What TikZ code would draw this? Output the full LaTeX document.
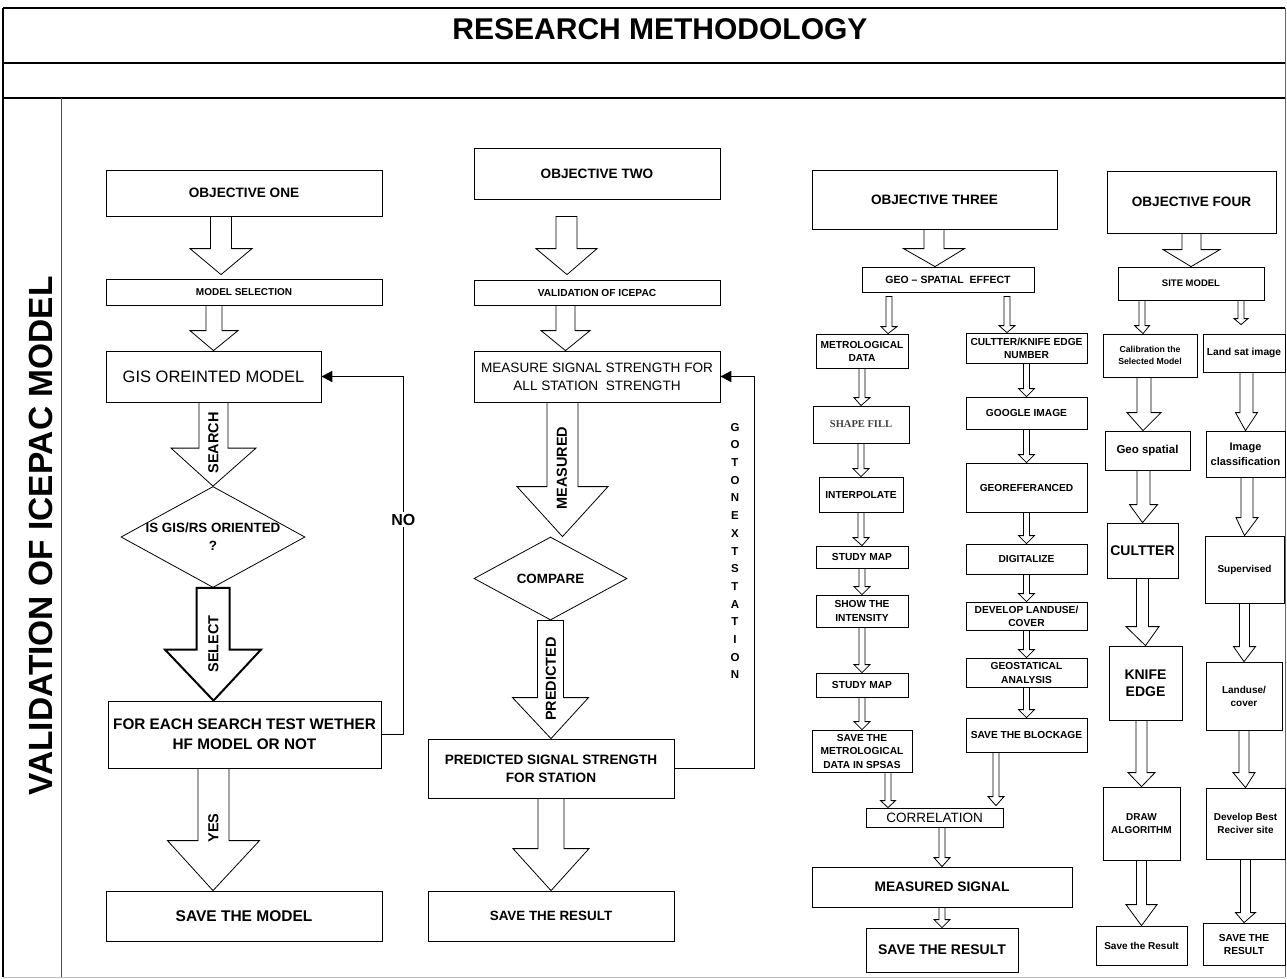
\documentclass[tikz,border=0pt]{standalone}
\usepackage{fontspec}
\setmainfont{Liberation Sans}
\newfontfamily\serifface{Liberation Serif}
\usepackage{tikz}
\usetikzlibrary{arrows.meta,calc,shapes.geometric}

\newcommand{\fsz}[2]{\fontsize{#1}{#2}\selectfont}
% hollow block arrow: start, tip, half shaft, half head, head length
\newcommand{\fatarrow}[6][]{%
  \draw[fat,#1] let \p1=#2, \p2=#3 in
    (\x1-#4,\y1) -- (\x1-#4,\y2+#6) -- (\x1-#5,\y2+#6) -- (\x2,\y2)
    -- (\x1+#5,\y2+#6) -- (\x1+#4,\y2+#6) -- (\x1+#4,\y1) -- cycle;}

\begin{document}
\begin{tikzpicture}[
x=1pt,y=-1pt,
box/.style={draw,line width=0.8pt,inner sep=1pt,align=center},
sz/.style 2 args={minimum width=#1,minimum height=#2},
dia/.style={draw,diamond,line width=0.8pt,inner sep=0pt,align=center},
small/.style={box,font=\fsz{10.2}{13}\bfseries},
fat/.style={draw,fill=white,line width=0.8pt},
arrlbl/.style={rotate=90,inner sep=0pt,font=\fsz{14.5}{16}\bfseries},
loopline/.style={line width=1.8pt,-{Triangle[length=11pt,width=11pt]}},
]
\useasboundingbox (0,0) rectangle (1287,978);

% frame
\draw[line width=2pt] (3,8) -- (1285,8);
\draw[line width=2pt] (3,8) -- (3,977);
\draw[line width=0.8pt,black!60] (1285,8) -- (1285,977);
\draw[line width=1pt,black!25] (3,977) -- (1285,977);
\draw[line width=2pt] (3,63) -- (1285,63);
\draw[line width=2pt] (3,98) -- (1285,98);
\draw[line width=0.8pt,black!70] (61,98) -- (61,977);
\node[font=\fsz{30}{36}\bfseries] (title) at (660,29) {RESEARCH METHODOLOGY};
\node[rotate=90,font=\fsz{33.5}{38}\bfseries] (side) at (41,536) {VALIDATION OF ICEPAC MODEL};

% objective one
\node[box,sz={276}{46},font=\fsz{13.6}{16}\bfseries] (obj1) at (244,193) {OBJECTIVE ONE};
\node[box,sz={276}{26},font=\fsz{10}{12}\bfseries] (msel) at (244,292) {MODEL SELECTION};
\node[box,sz={215}{51},font=\fsz{16.5}{20}] (gis) at (213.5,376.5) {GIS OREINTED MODEL};
\node[dia,sz={184}{101}] (isgis) at (213,537) {};
\node[align=center,font=\fsz{13.4}{18}\bfseries] (isgistxt) at (213,537) {IS GIS/RS ORIENTED\\?};
\node[box,sz={273}{67},font=\fsz{15.3}{20}\bfseries] (each) at (244.5,734.5) {FOR EACH SEARCH TEST WETHER\\HF MODEL OR NOT};
\node[box,sz={276}{50},font=\fsz{15.5}{18}\bfseries] (save1) at (244,916) {SAVE THE MODEL};

% objective two
\node[box,sz={246}{51},font=\fsz{13.6}{16}\bfseries] (obj2) at (597,173.5) {OBJECTIVE TWO};
\node[box,sz={246}{25},font=\fsz{10.2}{12}\bfseries] (val) at (597,292.5) {VALIDATION OF ICEPAC};
\node[box,sz={246}{51},font=\fsz{13.6}{18}] (meas) at (597,376.5) {MEASURE SIGNAL STRENGTH FOR\\ALL STATION\ \ STRENGTH};
\node[dia,sz={153}{83},font=\fsz{13.4}{16}\bfseries] (cmp) at (550.5,578.5) {COMPARE};
\node[box,sz={246}{59},font=\fsz{13.6}{18}\bfseries] (pred) at (551,768.5) {PREDICTED SIGNAL STRENGTH\\FOR STATION};
\node[box,sz={246}{50},font=\fsz{13.4}{16}\bfseries] (save2) at (551,916) {SAVE THE RESULT};
\node[align=center,font=\fsz{11.5}{17.7}\bfseries] (gonext) at (735,551) {G\\O\\T\\O\\N\\E\\X\\T\\S\\T\\A\\T\\I\\O\\N};

% objective three
\node[box,sz={245}{59},font=\fsz{13.6}{16}\bfseries] (obj3) at (934.5,199.5) {OBJECTIVE THREE};
\node[box,sz={172}{25},font=\fsz{10.5}{12}\bfseries] (geo) at (948,279.5) {GEO – SPATIAL\ \ EFFECT};
\node[small,sz={92}{34}] (metro) at (862,351) {METROLOGICAL\\DATA};
\node[box,sz={96}{37},font=\fsz{10.5}{12}\serifface\bfseries,text=black!75] (shape) at (861,424.5) {SHAPE FILL};
\node[small,sz={84}{35}] (interp) at (861,494.5) {INTERPOLATE};
\node[small,sz={92}{22}] (study1) at (862,557) {STUDY MAP};
\node[small,sz={92}{32},font=\fsz{10.2}{14}\bfseries] (show) at (862,611) {SHOW THE\\INTENSITY};
\node[small,sz={92}{24}] (study2) at (862,685) {STUDY MAP};
\node[small,sz={100}{42},font=\fsz{10.2}{13.5}\bfseries] (savemet) at (862,751) {SAVE THE\\METROLOGICAL\\DATA IN SPSAS};
\node[small,sz={121}{30}] (cultter) at (1026.5,348) {CULTTER/KNIFE EDGE\\NUMBER};
\node[small,sz={121}{32}] (google) at (1026.5,413) {GOOGLE IMAGE};
\node[small,sz={121}{49}] (georef) at (1026.5,487.5) {GEOREFERANCED};
\node[small,sz={121}{30}] (digit) at (1026.5,559) {DIGITALIZE};
\node[small,sz={121}{28}] (develop) at (1026.5,616) {DEVELOP LANDUSE/\\COVER};
\node[small,sz={121}{29},font=\fsz{10.2}{14}\bfseries] (geostat) at (1026.5,672.5) {GEOSTATICAL\\ANALYSIS};
\node[small,sz={121}{34}] (block) at (1026.5,735) {SAVE THE BLOCKAGE};
\node[box,sz={137}{19},inner sep=0pt,font=\fsz{13.5}{14}] (corr) at (934.5,817.5) {CORRELATION};
\node[box,sz={260}{40},font=\fsz{13.8}{16}\bfseries] (msig) at (942,887) {MEASURED SIGNAL};
\node[box,sz={152}{44},font=\fsz{14}{16}\bfseries] (save3) at (942,950) {SAVE THE RESULT};

% objective four
\node[box,sz={169}{62},font=\fsz{13.6}{16}\bfseries] (obj4) at (1191.5,202) {OBJECTIVE FOUR};
\node[box,sz={146}{33},font=\fsz{9.5}{12}\bfseries] (site) at (1191,283.5) {SITE MODEL};
\node[box,sz={94}{43},font=\fsz{8.7}{12}\bfseries] (calib) at (1150,355.5) {Calibration the\\Selected Model};
\node[box,sz={82}{38},font=\fsz{10.2}{12}\bfseries] (land) at (1244,353) {Land sat image};
\node[box,sz={85}{39},font=\fsz{11.5}{13}\bfseries] (geosp) at (1147.5,450.5) {Geo spatial};
\node[box,sz={79}{46},font=\fsz{11}{15}\bfseries] (imgcls) at (1245.5,454) {Image\\classification};
\node[box,sz={71}{55},font=\fsz{14}{16}\bfseries] (cult4) at (1142.5,550.5) {CULTTER};
\node[box,sz={79}{67},font=\fsz{10}{12}\bfseries] (superv) at (1244.5,569.5) {Supervised};
\node[box,sz={73}{74},font=\fsz{14}{17}\bfseries] (knife) at (1145.5,683) {KNIFE\\EDGE};
\node[box,sz={76}{68},font=\fsz{10}{13}\bfseries] (landuse) at (1244,696) {Landuse/\\cover};
\node[box,sz={77}{73},font=\fsz{10}{13}\bfseries] (drawalg) at (1141.5,823.5) {DRAW\\ALGORITHM};
\node[box,sz={79}{71},font=\fsz{10}{13}\bfseries] (best) at (1245.5,823.5) {Develop Best\\Reciver site};
\node[box,sz={91}{39},font=\fsz{10}{12}\bfseries] (save4a) at (1141.5,945.5) {Save the Result};
\node[box,sz={82}{42},font=\fsz{10.2}{13}\bfseries] (save4b) at (1244,944) {SAVE THE\\RESULT};

% block arrows, objective one
\fatarrow{([xshift=-23pt]obj1.south)}{([xshift=-23pt,yshift=4pt]msel.north)}{10.5pt}{31pt}{26pt}
\fatarrow{([xshift=-30pt]msel.south)}{(gis.north)}{8pt}{24pt}{20pt}
\fatarrow{(gis.south)}{(isgis.north)}{14.5pt}{42.5pt}{38pt}
\fatarrow[line width=2pt]{(isgis.south)}{([xshift=-31pt]each.north)}{16.5pt}{48pt}{51pt}
\fatarrow{([xshift=-31pt]each.south)}{([xshift=-31pt]save1.north)}{15.5pt}{46pt}{50pt}
\node[arrlbl] (lsearch) at (213.5,443) {SEARCH};
\node[arrlbl] (lselect) at (213.5,644) {SELECT};
\node[arrlbl] (lyes) at (213.5,828) {YES};
\draw[loopline] (each.east) -- ++(22,0) |- node[pos=0.3,fill=white,inner sep=2pt,font=\fsz{16}{18}\bfseries] (lno) {NO} (gis.east);

% block arrows, objective two
\fatarrow{([xshift=-30.5pt,yshift=-17pt]obj2.south)}{([xshift=-30pt,yshift=5pt]val.north)}{10.5pt}{30.5pt}{26pt}
\fatarrow{([xshift=-31.5pt]val.south)}{([xshift=-31.5pt]meas.north)}{9.5pt}{24.5pt}{20pt}
\fatarrow{([xshift=-34.5pt]meas.south)}{([xshift=12pt]cmp.north)}{15.5pt}{45.5pt}{50pt}
\fatarrow{(cmp.south)}{(pred.north)}{13pt}{38pt}{41pt}
\fatarrow{(pred.south)}{(save2.north)}{13pt}{38pt}{42pt}
\node[arrlbl] (lmeas) at (562,468) {MEASURED};
\node[arrlbl] (lpred) at (551,679) {PREDICTED};
\draw[loopline] (pred.east) -- ++(80,0) |- (meas.east);

% block arrows, objective three
\fatarrow{([xshift=-0.5pt]obj3.south)}{([xshift=-13pt]geo.north)}{10pt}{30.5pt}{18pt}
\fatarrow{([xshift=-59pt,yshift=-4pt]geo.south)}{([xshift=26pt]metro.north)}{3pt}{8pt}{7pt}
\fatarrow{([xshift=59pt,yshift=-4pt]geo.south)}{([xshift=-19.5pt]cultter.north)}{3pt}{8pt}{7pt}
\foreach \a/\b in {metro/shape,shape/interp,interp/study1,study1/show,show/study2,study2/savemet}
  {\fatarrow{(\a.south)}{(\b.north)}{3pt}{8pt}{8pt}}
\foreach \a/\b in {cultter/google,google/georef,georef/digit,digit/develop,develop/geostat,geostat/block}
  {\fatarrow{(\a.south)}{(\b.north)}{3pt}{8pt}{8pt}}
\fatarrow{([xshift=26pt]savemet.south)}{([xshift=-46.5pt]corr.north)}{3pt}{7.5pt}{7pt}
\fatarrow{([xshift=-30.5pt]block.south)}{([xshift=61.5pt,yshift=2pt]corr.north)}{3pt}{8pt}{9pt}
\fatarrow{([xshift=7.5pt]corr.south)}{(msig.north)}{3pt}{8pt}{9pt}
\fatarrow{(msig.south)}{(save3.north)}{3pt}{8pt}{8pt}

% block arrows, objective four
\fatarrow{(obj4.south)}{(site.north)}{9.5pt}{28.5pt}{17pt}
\fatarrow{([xshift=-49pt]site.south)}{([xshift=-7pt]calib.north)}{3pt}{7.5pt}{8pt}
\fatarrow{([xshift=50pt]site.south)}{([xshift=-3pt,yshift=9pt]land.north)}{3pt}{7pt}{6pt}
\fatarrow{([xshift=-6pt]calib.south)}{([xshift=-4.5pt]geosp.north)}{7pt}{17pt}{18pt}
\fatarrow{([xshift=2.5pt]land.south)}{(imgcls.north)}{6.5pt}{11pt}{18pt}
\fatarrow{([xshift=-4pt]geosp.south)}{(cult4.north)}{6.5pt}{14pt}{18pt}
\fatarrow{([xshift=1.5pt]imgcls.south)}{(superv.north)}{6pt}{11pt}{18pt}
\fatarrow{(cult4.south)}{(knife.north)}{6pt}{16.5pt}{19pt}
\fatarrow{(superv.south)}{(landuse.north)}{5pt}{11pt}{15pt}
\fatarrow{([xshift=-4pt]knife.south)}{(drawalg.north)}{5.5pt}{13.5pt}{14pt}
\fatarrow{(landuse.south)}{(best.north)}{5pt}{11pt}{15pt}
\fatarrow{(drawalg.south)}{(save4a.north)}{5pt}{15.5pt}{21pt}
\fatarrow{(best.south)}{(save4b.north)}{5pt}{10pt}{10pt}
\end{tikzpicture}
\end{document}
